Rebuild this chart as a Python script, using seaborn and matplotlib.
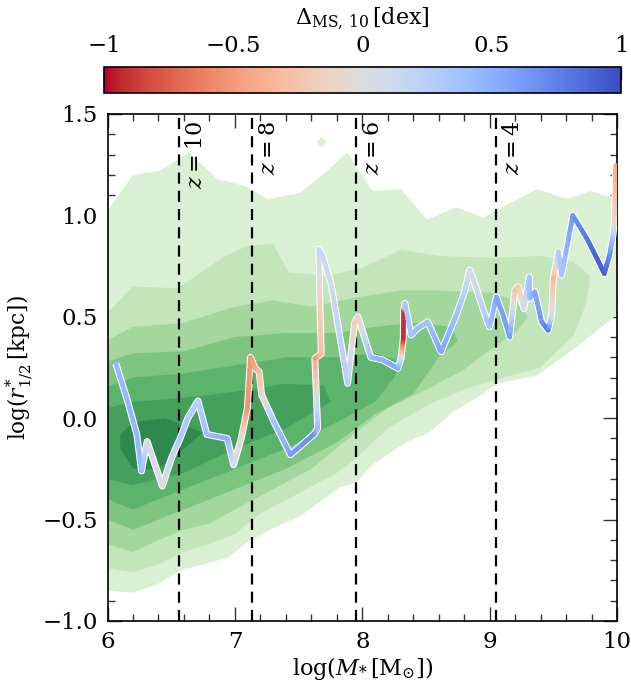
import numpy as np
import matplotlib
matplotlib.use("Agg")
import matplotlib.pyplot as plt
import seaborn as sns
import pandas as pd
from matplotlib.collections import LineCollection
from matplotlib.colors import Normalize
from matplotlib.cm import ScalarMappable
from matplotlib.ticker import MultipleLocator, FuncFormatter

sns.set_theme(style="ticks")
plt.rcParams["font.family"] = ["DejaVu Serif"]
plt.rcParams["mathtext.fontset"] = "dejavuserif"
for key in ("text.color", "axes.labelcolor", "xtick.labelcolor", "ytick.labelcolor"):
    plt.rcParams[key] = "black"

# ---- size-mass density contours (outer -> inner), vertices of each band
lev_upper_x = [
    [6.0, 6.2, 6.41, 6.64, 6.86, 6.99, 7.09, 7.26, 7.51, 7.69, 7.88, 8.08, 8.30, 8.51, 8.74, 8.95, 9.19, 9.37, 9.61, 9.79, 10.0],
    [6.0, 6.2, 6.55, 6.9, 7.1, 7.3, 7.42, 7.7, 8.0, 8.3, 8.6, 9.05, 9.4, 9.66, 9.79, 9.76, 9.66, 9.4],
    [6.0, 6.2, 6.6, 7.0, 7.3, 7.6, 8.0, 8.3, 8.6, 9.0, 9.2, 9.3, 9.2],
    [6.0, 6.2, 6.6, 7.0, 7.4, 7.8, 8.1, 8.4, 8.7, 8.75, 8.6],
    [6.0, 6.2, 6.6, 7.0, 7.4, 7.8, 8.1, 8.3, 8.25],
    [6.0, 6.2, 6.6, 7.0, 7.4, 7.7, 7.75],
    [6.1, 6.2, 6.45, 6.75, 6.6],
]
lev_upper_y = [
    [1.02, 1.20, 1.22, 1.31, 1.18, 1.16, 1.14, 1.08, 1.11, 1.20, 1.31, 1.12, 1.13, 0.98, 1.04, 0.99, 1.07, 1.13, 1.08, 1.12, 1.08],
    [0.52, 0.65, 0.64, 0.79, 0.85, 0.86, 0.72, 0.70, 0.74, 0.83, 0.80, 0.79, 0.80, 0.77, 0.70, 0.57, 0.41, 0.25],
    [0.385, 0.45, 0.47, 0.55, 0.58, 0.55, 0.60, 0.63, 0.63, 0.62, 0.58, 0.50, 0.42],
    [0.28, 0.32, 0.33, 0.40, 0.42, 0.42, 0.45, 0.47, 0.45, 0.38, 0.30],
    [0.155, 0.20, 0.22, 0.26, 0.30, 0.30, 0.32, 0.28, 0.20],
    [0.05, 0.08, 0.10, 0.13, 0.17, 0.16, 0.08],
    [-0.08, -0.02, 0.0, -0.07, -0.15],
]
lev_lower_x = [
    [6.0, 6.2, 6.39, 6.57, 6.76, 6.94, 7.10, 7.31, 7.52, 7.67, 7.83, 7.95, 8.08, 8.34, 8.53, 8.71, 8.95, 9.05, 9.37, 9.66, 10.0],
    [6.0, 6.2, 6.4, 6.6, 6.8, 7.0, 7.2, 7.5, 7.8, 7.95, 8.2, 8.53, 8.84, 9.05, 9.4],
    [6.0, 6.2, 6.4, 6.6, 6.8, 7.0, 7.3, 7.6, 7.95, 8.2, 8.5, 8.8, 9.05],
    [6.0, 6.2, 6.6, 7.0, 7.4, 7.8, 8.1, 8.4, 8.6],
    [6.0, 6.2, 6.6, 7.0, 7.4, 7.8, 8.1, 8.25],
    [6.0, 6.2, 6.6, 7.0, 7.4, 7.75],
    [6.1, 6.2, 6.4, 6.6],
]
lev_lower_y = [
    [-0.85, -0.86, -0.82, -0.75, -0.72, -0.69, -0.61, -0.54, -0.48, -0.41, -0.34, -0.32, -0.23, -0.12, -0.07, 0.03, 0.12, 0.17, 0.21, 0.34, 0.51],
    [-0.74, -0.76, -0.72, -0.66, -0.62, -0.57, -0.47, -0.37, -0.27, -0.20, -0.05, 0.07, 0.15, 0.19, 0.25],
    [-0.62, -0.66, -0.60, -0.55, -0.52, -0.45, -0.35, -0.25, -0.07, 0.05, 0.14, 0.24, 0.36],
    [-0.50, -0.55, -0.45, -0.35, -0.25, -0.12, 0.02, 0.12, 0.30],
    [-0.40, -0.45, -0.35, -0.25, -0.15, -0.02, 0.08, 0.20],
    [-0.30, -0.33, -0.27, -0.15, -0.05, 0.08],
    [-0.15, -0.25, -0.25, -0.15],
]
lev_colors = ["#d9f0d3", "#c2e5ba", "#a3d79d", "#7ec580", "#5cb36b", "#44a05c", "#2d8a4c"]

# small detached patch of the outer level
patch_x = [7.64, 7.68, 7.72, 7.68]
patch_y = [1.36, 1.385, 1.36, 1.335]

# ---- redshift markers
z_labels = ["$z=10$", "$z=8$", "$z=6$", "$z=4$"]
z_mass = [6.562, 7.137, 7.954, 9.053]

# ---- evolutionary track: stellar mass, size, offset from main sequence
trk_logm = [6.065, 6.15, 6.23, 6.267, 6.311, 6.43, 6.5, 6.571, 6.63, 6.71, 6.78, 6.94,
            6.99, 7.05, 7.098, 7.122, 7.16, 7.19, 7.21, 7.305, 7.436, 7.62, 7.65,
            7.628, 7.678, 7.668, 7.66, 7.69, 7.756, 7.822, 7.885, 7.94, 7.966,
            8.067, 8.16, 8.28, 8.304, 8.322, 8.325, 8.335, 8.383, 8.435, 8.514,
            8.606, 8.62, 8.738, 8.803, 8.843, 8.869, 8.974, 9.0, 9.053, 9.106,
            9.158, 9.198, 9.224, 9.269, 9.311, 9.316, 9.355, 9.408, 9.46, 9.487,
            9.5, 9.54, 9.566, 9.653, 9.764, 9.843, 9.9, 9.942, 9.968, 9.979, 9.99]
trk_logr = [0.27, 0.10, -0.08, -0.26, -0.115, -0.335, -0.2, -0.098, 0.0, 0.085, -0.08, -0.10,
            -0.23, -0.10, 0.05, 0.30, 0.245, 0.23, 0.115, -0.016, -0.18, -0.08, -0.05,
            0.295, 0.318, 0.55, 0.832, 0.80, 0.66, 0.41, 0.172, 0.47, 0.50,
            0.30, 0.287, 0.246, 0.295, 0.39, 0.53, 0.566, 0.41, 0.443, 0.475,
            0.344, 0.328, 0.508, 0.623, 0.73, 0.69, 0.49, 0.45, 0.598, 0.508,
            0.40, 0.63, 0.648, 0.54, 0.697, 0.59, 0.623, 0.475, 0.434, 0.508,
            0.69, 0.82, 0.705, 1.0, 0.885, 0.787, 0.713, 0.803, 0.90, 0.967, 1.246]
trk_dms = [0.45, 0.45, 0.45, 0.42, 0.05, 0.0, 0.15, 0.3, 0.3, 0.25, 0.4, 0.5,
           0.05, -0.05, -0.55, -0.5, -0.45, -0.3, -0.1, 0.35, 0.6, 0.7, 0.4,
           -0.5, -0.3, -0.15, 0.15, 0.12, 0.1, 0.2, 0.25, -0.2, -0.1,
           0.4, 0.5, 0.55, 0.1, -0.9, -0.9, 0.35, 0.35, 0.4, 0.35,
           0.55, 0.55, 0.4, 0.25, 0.05, 0.1, 0.3, 0.35, 0.55, 0.6,
           0.6, -0.3, -0.2, 0.05, 0.35, 0.4, 0.55, 0.65, 0.8, 0.05,
           -0.35, 0.3, 0.35, 0.65, 0.8, 0.9, 0.9, 0.7, 0.3, -0.1, -0.45]

fig = plt.figure(figsize=(6.31, 6.87), dpi=100)
ax = fig.add_axes([0.1704, 0.0961, 0.8074, 0.738])
cax = fig.add_axes([0.1648, 0.8647, 0.8193, 0.0378])

for ux, uy, lx, ly, c in zip(lev_upper_x, lev_upper_y, lev_lower_x, lev_lower_y, lev_colors):
    px = list(ux) + list(lx[::-1])
    py = list(uy) + list(ly[::-1])
    ax.fill(px, py, color=c, lw=0, zorder=1)
ax.fill(patch_x, patch_y, color=lev_colors[0], lw=0, zorder=1)

for zl, zm in zip(z_labels, z_mass):
    ax.axvline(zm, color="black", ls=(0, (5, 3.2)), lw=1.6, zorder=2)
    ax.text(zm + 0.045, 1.465, zl, rotation=90, ha="left", va="top",
            fontsize=16, color="black", zorder=3)

track = pd.DataFrame({"logm": trk_logm, "logr": trk_logr, "dms": trk_dms})
sns.lineplot(data=track, x="logm", y="logr", sort=False, estimator=None,
             color="white", lw=5.0, ax=ax, zorder=4,
             solid_capstyle="butt", solid_joinstyle="round")

pts = np.column_stack([track["logm"], track["logr"]])
# densify so that colours blend smoothly along the track
fine_x, fine_y, fine_c = [], [], []
for i in range(len(pts) - 1):
    t = np.linspace(0, 1, 8, endpoint=False)
    fine_x.extend(pts[i, 0] + t * (pts[i + 1, 0] - pts[i, 0]))
    fine_y.extend(pts[i, 1] + t * (pts[i + 1, 1] - pts[i, 1]))
    fine_c.extend(trk_dms[i] + t * (trk_dms[i + 1] - trk_dms[i]))
fine_x.append(pts[-1, 0]); fine_y.append(pts[-1, 1]); fine_c.append(trk_dms[-1])
fp = np.column_stack([fine_x, fine_y]).reshape(-1, 1, 2)
segs = np.concatenate([fp[:-1], fp[1:]], axis=1)
cmap = plt.get_cmap("coolwarm_r")
norm = Normalize(-1, 1)
lc = LineCollection(segs, cmap=cmap, norm=norm, lw=3.4, zorder=5,
                    capstyle="round", joinstyle="round")
lc.set_array(np.array(fine_c[:-1]))
ax.add_collection(lc)

ax.set_xlim(6, 10)
ax.set_ylim(-1.0, 1.5)
ax.xaxis.set_major_locator(MultipleLocator(1))
ax.xaxis.set_minor_locator(MultipleLocator(0.2))
ax.yaxis.set_major_locator(MultipleLocator(0.5))
ax.yaxis.set_minor_locator(MultipleLocator(0.1))
ax.xaxis.set_major_formatter(FuncFormatter(lambda v, p: f"{v:.0f}"))
ax.yaxis.set_major_formatter(FuncFormatter(
    lambda v, p: f"{v:.1f}".replace("-", "\u2212")))
ax.tick_params(which="both", direction="in", top=True, right=True,
               labelsize=16.5, width=1.0, color="#333333", labelcolor="black")
ax.tick_params(which="major", length=10, pad=7)
ax.tick_params(which="minor", length=5)
for s in ax.spines.values():
    s.set_linewidth(1.2)
    s.set_color("black")
ax.set_xlabel(r"$\log(M_{*}\,[\mathrm{M}_{\odot}])$", fontsize=16, color="black")
ax.xaxis.set_label_coords(0.5, -0.068)
ax.set_ylabel(r"$\log(r^{*}_{1/2}\,[\mathrm{kpc}])$", fontsize=15.5, color="black")
ax.yaxis.set_label_coords(-0.142, 0.5)

sm = ScalarMappable(norm=norm, cmap=cmap)
cb = fig.colorbar(sm, cax=cax, orientation="horizontal")
cb.outline.set_linewidth(1.2)
cb.outline.set_edgecolor("black")
cax.xaxis.set_ticks_position("top")
cax.xaxis.set_label_position("top")
cb.set_ticks([-1, -0.5, 0, 0.5, 1])
cb.set_ticklabels(["\u22121", "\u22120.5", "0", "0.5", "1"])
cax.xaxis.set_minor_locator(MultipleLocator(0.1))
cax.tick_params(which="both", direction="in", labelsize=16.5, color="#333333",
                labelcolor="black")
cax.tick_params(which="major", length=9, width=1.0, pad=7)
cax.tick_params(which="minor", length=5, width=1.0)
cb.set_label(r"$\Delta_{\mathrm{MS,\,10}}\,[\mathrm{dex}]$", fontsize=16,
             labelpad=8, color="black")

fig.savefig("out.png", dpi=100)
